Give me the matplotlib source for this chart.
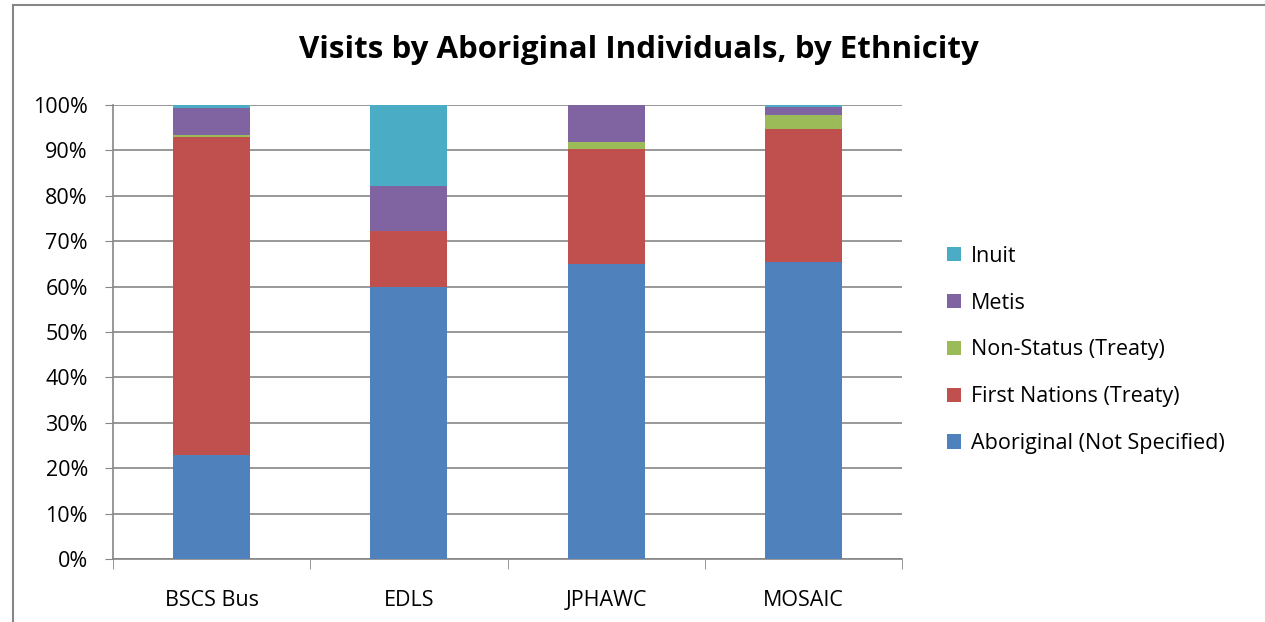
import matplotlib
matplotlib.use("Agg")
import matplotlib.pyplot as plt
from matplotlib.patches import Rectangle, Patch
import numpy as np

categories = ["BSCS Bus", "EDLS", "JPHAWC", "MOSAIC"]
series_names = ["Aboriginal (Not Specified)", "First Nations (Treaty)",
                "Non-Status (Treaty)", "Metis", "Inuit"]
aboriginal = [22.8, 59.9, 65.0, 65.4]
first_nations = [70.2, 12.3, 25.3, 29.4]
non_status = [0.5, 0.0, 1.6, 3.0]
metis = [5.9, 9.9, 8.1, 1.8]
inuit = [0.6, 17.9, 0.0, 0.4]
colors = ["#4F81BD", "#C0504D", "#9BBB59", "#8064A2", "#4BACC6"]
yticks = [0, 10, 20, 30, 40, 50, 60, 70, 80, 90, 100]

plt.rcParams['font.family'] = ['Open Sans', 'DejaVu Sans']

fig = plt.figure(figsize=(12.65, 6.22), dpi=100)
ax = fig.add_axes([113/1265, 63/622, 789/1265, 454/622])

x = np.arange(len(categories))
bottom = np.zeros(len(categories))
handles = []
for name, vals, c in zip(series_names, [aboriginal, first_nations, non_status, metis, inuit], colors):
    ax.bar(x, vals, width=0.39, bottom=bottom, color=c, zorder=3, linewidth=0)
    bottom += np.array(vals)
    handles.append(Patch(facecolor=c, label=name))

ax.set_xlim(-0.5, len(categories) - 0.5)
ax.set_ylim(0, 100)
ax.set_yticks(yticks)
ax.set_yticklabels([f"{t}%" for t in yticks], fontsize=15.5)
ax.set_xticks(x)
ax.set_xticklabels(categories, fontsize=15.5)
ax.set_xticks(np.arange(-0.5, len(categories)), minor=True)
ax.tick_params(axis='x', which='major', length=0, pad=22)
ax.tick_params(axis='x', which='minor', length=7, color='#868686', direction='out')
ax.tick_params(axis='y', length=6, color='#868686', direction='out', pad=12)
ax.yaxis.grid(True, color='#868686', linewidth=1.2, zorder=0)
for s in ['top', 'right']:
    ax.spines[s].set_visible(False)
ax.spines['left'].set_color('#868686')
ax.spines['bottom'].set_color('#868686')
ax.spines['left'].set_linewidth(1.2)
ax.spines['bottom'].set_linewidth(1.2)

fig.text(639/1265, 1 - 50/622, "Visits by Aboriginal Individuals, by Ethnicity",
         ha='center', va='center', fontsize=22.5, fontweight='bold')

leg = fig.legend(handles=handles[::-1], loc='center left',
                 bbox_to_anchor=(928/1265, 1 - 350/622), frameon=False,
                 fontsize=15.5, handlelength=0.65, handleheight=0.65,
                 labelspacing=1.2, handletextpad=0.45)

fig.patches.append(Rectangle((13/1265, -0.1), 1.2, 1.1 - 5/622,
                             transform=fig.transFigure, fill=False,
                             edgecolor='#868686', linewidth=1.5))

fig.savefig("out.png", dpi=100)
